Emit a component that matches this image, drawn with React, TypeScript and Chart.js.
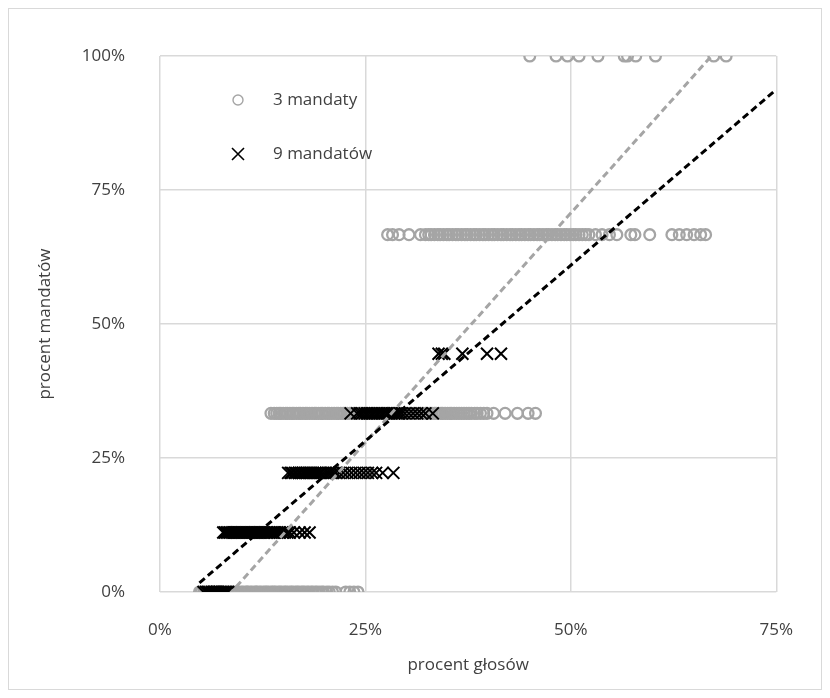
import React, { useEffect, useRef } from 'react';
import { Chart, registerables } from 'chart.js';

Chart.register(...registerables);

// ---- labels ----
const seriesNames = ['3 mandaty', '9 mandatów'];
const xTitle = 'procent głosów';
const yTitle = 'procent mandatów';
const xTicks = [0, 25, 50, 75];
const yTicks = [0, 25, 50, 75, 100];

// ---- 3 mandaty: vote share (%) of lists, grouped by seat share level ----
const m3Levels = [0, 33.33, 66.67, 100];
const m3At0 = [
  4.8, 5.0, 5.3, 5.5, 5.7, 6.0, 6.2, 6.3, 6.6, 6.8, 7.1, 7.3, 7.4, 7.7, 7.9, 8.2, 8.3, 8.6, 8.8, 9.0,
  9.3, 9.5, 9.6, 9.9, 10.1, 10.4, 10.6, 10.7, 11.0, 11.2, 11.5, 11.7, 11.8, 12.1, 12.3, 12.6, 12.8,
  13.0, 13.2, 13.5, 13.7, 13.9, 14.1, 14.4, 14.6, 14.8, 15.1, 15.3, 15.5, 15.8, 16.0, 16.2, 16.5,
  16.7, 16.9, 17.2, 17.4, 17.6, 17.9, 18.1, 18.4, 18.6, 18.9, 19.1, 19.4, 19.7, 19.9, 20.3, 20.6,
  21.0, 21.4, 22.6, 23.1, 23.6, 24.1,
];
const m3At33 = [
  13.5, 13.9, 14.2, 14.5, 14.7, 15.0, 15.3, 15.5, 15.8, 16.1, 16.3, 16.6, 16.9, 17.1, 17.4, 17.7,
  17.9, 18.2, 18.5, 18.8, 19.0, 19.3, 19.6, 19.8, 20.1, 20.4, 20.6, 20.9, 21.2, 21.5, 21.7, 22.0,
  22.3, 22.5, 22.8, 23.1, 23.3, 23.6, 23.9, 24.2, 24.4, 24.7, 25.0, 25.2, 25.5, 25.8, 26.0, 26.3,
  26.6, 26.9, 27.1, 27.4, 27.7, 27.9, 28.2, 28.5, 28.7, 29.0, 29.3, 29.6, 29.8, 30.1, 30.4, 30.6,
  30.9, 31.2, 31.5, 31.7, 32.0, 32.3, 32.5, 32.8, 33.1, 33.4, 33.6, 33.9, 34.2, 34.4, 34.7, 35.0,
  35.3, 35.5, 35.8, 36.1, 36.4, 36.7, 37.0, 37.3, 37.6, 37.9, 38.3, 38.6, 39.0, 39.4, 39.8, 40.6,
  42.0, 43.5, 44.8, 45.7,
];
const m3At67 = [
  27.7, 28.3, 29.1, 30.3, 31.7, 32.3, 32.7, 33.0, 33.4, 33.8, 34.1, 34.5, 34.9, 35.2, 35.6, 36.0,
  36.3, 36.7, 37.1, 37.4, 37.8, 38.2, 38.5, 38.9, 39.3, 39.6, 40.0, 40.4, 40.7, 41.1, 41.5, 41.8,
  42.2, 42.6, 42.9, 43.3, 43.7, 44.0, 44.4, 44.8, 45.1, 45.5, 45.9, 46.2, 46.6, 47.0, 47.3, 47.7,
  48.1, 48.4, 48.8, 49.2, 49.5, 49.9, 50.3, 50.6, 51.0, 51.4, 51.8, 52.2, 53.0, 53.8, 54.7, 55.6,
  57.3, 57.8, 59.6, 62.3, 63.2, 64.1, 65.0, 65.8, 66.4,
];
const m3At100 = [45.0, 48.2, 49.6, 51.0, 53.3, 56.5, 56.9, 57.9, 60.3, 67.4, 68.9];

// ---- 9 mandatów ----
const m9Levels = [0, 11.11, 22.22, 33.33, 44.44];
const m9At0 = [5.3, 5.6, 5.8, 6.0, 6.3, 6.5, 6.7, 6.9, 7.1, 7.3, 7.5, 7.7, 7.9, 8.1, 8.3];
const m9At11 = [
  7.7, 7.9, 8.1, 8.3, 8.5, 8.7, 8.9, 9.1, 9.3, 9.5, 9.7, 9.9, 10.1, 10.3, 10.5, 10.7, 10.9, 11.1,
  11.3, 11.5, 11.7, 11.9, 12.1, 12.3, 12.5, 12.7, 12.9, 13.1, 13.3, 13.5, 13.8, 14.0, 14.3, 14.6,
  14.9, 15.2, 15.5, 15.8, 16.3, 17.0, 17.6, 18.2,
];
const m9At22 = [
  15.6, 15.9, 16.1, 16.4, 16.6, 16.9, 17.1, 17.4, 17.6, 17.9, 18.1, 18.4, 18.6, 18.9, 19.1, 19.4,
  19.6, 19.9, 20.2, 20.5, 20.8, 21.1, 21.4, 21.8, 22.3, 22.8, 23.3, 23.8, 24.3, 24.8, 25.3, 25.8,
  26.3, 27.1, 28.4,
];
const m9At33 = [
  23.2, 24.0, 24.3, 24.6, 24.9, 25.2, 25.5, 25.8, 26.1, 26.4, 26.7, 27.0, 27.3, 27.6, 27.9, 28.2,
  28.5, 28.8, 29.1, 29.4, 29.8, 30.3, 30.8, 31.3, 31.8, 32.3, 33.2,
];
const m9At44 = [33.9, 34.3, 34.6, 36.8, 39.8, 41.5];

// ---- linear trend lines ----
const trend3 = { slope: 1.712, intercept: -14.9, from: 4.8, to: 69.0 };
const trend9 = { slope: 1.311, intercept: -4.59, from: 4.8, to: 75.0 };

const FONT = '"Open Sans", "Noto Sans", sans-serif';
const TEXT = '#404040';
const GRAY = '#a5a5a5';

const pts = (xs: number[], y: number) => xs.map((x) => ({ x, y }));
const trendPts = (t: { slope: number; intercept: number; from: number; to: number }) => [
  { x: t.from, y: t.slope * t.from + t.intercept },
  { x: t.to, y: t.slope * t.to + t.intercept },
];

const legendPlugin = {
  id: 'insideLegend',
  afterDraw(chart: any) {
    const { ctx, chartArea } = chart;
    const mx = chartArea.left + 78;
    const tx = chartArea.left + 113;
    const y1 = chartArea.top + 44;
    const y2 = chartArea.top + 98;
    ctx.save();
    ctx.strokeStyle = GRAY;
    ctx.lineWidth = 1.4;
    ctx.beginPath();
    ctx.arc(mx, y1, 5, 0, Math.PI * 2);
    ctx.stroke();
    ctx.strokeStyle = '#000';
    ctx.lineWidth = 1.6;
    ctx.beginPath();
    ctx.moveTo(mx - 6, y2 - 6);
    ctx.lineTo(mx + 6, y2 + 6);
    ctx.moveTo(mx + 6, y2 - 6);
    ctx.lineTo(mx - 6, y2 + 6);
    ctx.stroke();
    ctx.fillStyle = TEXT;
    ctx.font = `17px ${FONT}`;
    ctx.textBaseline = 'middle';
    ctx.textAlign = 'left';
    ctx.fillText(seriesNames[0], tx, y1);
    ctx.fillText(seriesNames[1], tx, y2);
    ctx.restore();
  },
};

export default function App() {
  const ref = useRef<HTMLCanvasElement | null>(null);

  useEffect(() => {
    if (!ref.current) return;
    const circles = [
      ...pts(m3At0, m3Levels[0]),
      ...pts(m3At33, m3Levels[1]),
      ...pts(m3At67, m3Levels[2]),
      ...pts(m3At100, m3Levels[3]),
    ];
    const crosses = [
      ...pts(m9At0, m9Levels[0]),
      ...pts(m9At11, m9Levels[1]),
      ...pts(m9At22, m9Levels[2]),
      ...pts(m9At33, m9Levels[3]),
      ...pts(m9At44, m9Levels[4]),
    ];
    const chart = new Chart(ref.current, {
      type: 'scatter',
      data: {
        datasets: [
          {
            label: 'trend 9',
            data: trendPts(trend9),
            showLine: true,
            borderColor: '#000',
            borderWidth: 3,
            borderDash: [7, 4],
            pointRadius: 0,
          },
          {
            label: 'trend 3',
            data: trendPts(trend3),
            showLine: true,
            borderColor: GRAY,
            borderWidth: 3,
            borderDash: [7, 4],
            pointRadius: 0,
          },
          {
            label: seriesNames[1],
            data: crosses,
            pointStyle: 'crossRot',
            pointRadius: 8.5,
            borderColor: '#000',
            backgroundColor: '#000',
            pointBorderWidth: 2,
          },
          {
            label: seriesNames[0],
            data: circles,
            pointStyle: 'circle',
            pointRadius: 5.4,
            borderColor: GRAY,
            backgroundColor: 'rgba(0,0,0,0)',
            pointBorderWidth: 2.3,
          },
        ],
      },
      options: {
        responsive: false,
        animation: false,
        events: [],
        layout: { padding: { top: 47, right: 35, left: 0, bottom: 0 } },
        plugins: { legend: { display: false }, tooltip: { enabled: false } },
        scales: {
          x: {
            type: 'linear',
            min: 0,
            max: 75,
            afterBuildTicks: (s: any) => {
              s.ticks = xTicks.map((v) => ({ value: v }));
            },
            afterFit: (s: any) => {
              s.height = 97;
            },
            grid: { color: '#d9d9d9', lineWidth: 1.5, drawTicks: false },
            border: { display: false },
            ticks: {
              padding: 28,
              color: TEXT,
              font: { family: FONT, size: 17 },
              callback: (v: any) => `${v}%`,
            },
            title: {
              display: true,
              text: xTitle,
              color: TEXT,
              font: { family: FONT, size: 17 },
              padding: { top: 0, bottom: 14 },
            },
          },
          y: {
            type: 'linear',
            min: 0,
            max: 100,
            afterBuildTicks: (s: any) => {
              s.ticks = yTicks.map((v) => ({ value: v }));
            },
            afterFit: (s: any) => {
              s.width = 151;
            },
            grid: { color: '#d9d9d9', lineWidth: 1.5, drawTicks: false },
            border: { display: false },
            ticks: {
              padding: 35,
              color: TEXT,
              font: { family: FONT, size: 17 },
              callback: (v: any) => `${v}%`,
            },
            title: {
              display: true,
              text: yTitle,
              color: TEXT,
              font: { family: FONT, size: 17 },
              padding: { top: 26, bottom: 0 },
            },
          },
        },
      },
      plugins: [legendPlugin],
    });
    return () => chart.destroy();
  }, []);

  return (
    <div
      style={{
        width: 814,
        height: 682,
        boxSizing: 'border-box',
        border: '1px solid #d9d9d9',
        background: '#fff',
      }}
    >
      <canvas ref={ref} width={812} height={680} style={{ display: 'block' }} />
    </div>
  );
}
